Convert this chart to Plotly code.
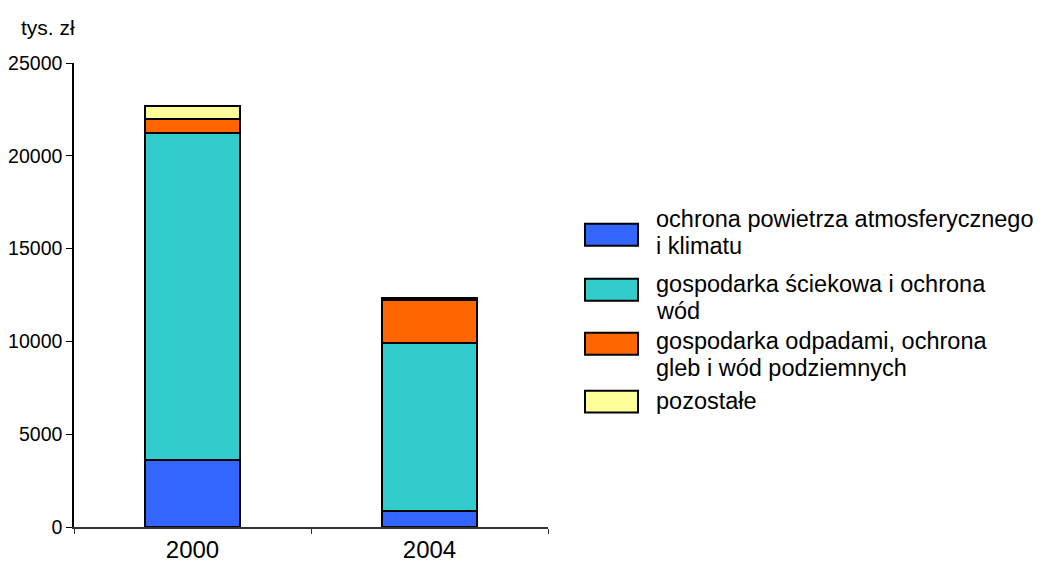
import plotly.graph_objects as go

years = ["2000", "2004"]
series_names = [
    "ochrona powietrza atmosferycznego<br>i klimatu",
    "gospodarka ściekowa i ochrona<br>wód",
    "gospodarka odpadami, ochrona<br>gleb i wód podziemnych",
    "pozostałe",
]
powietrze = [3600, 850]
sciekowa = [17620, 9090]
odpady = [770, 2280]
pozostale = [720, 100]
colors = ["#3366FF", "#33CCCC", "#FF6600", "#FFFF99"]
y_ticks = [0, 5000, 10000, 15000, 20000, 25000]

FONT = "Liberation Sans, Arial, sans-serif"
OFF = 8  # page body margin
W, H = 1045 - OFF, 569 - OFF
L, T = 74 - OFF, 63 - OFF
R = W - (548 - OFF)
B = H - (527.5 - OFF)
PW, PH = W - L - R, H - T - B


def px(x):
    return (x - OFF - L) / PW


def py(y):
    return (H - B - (y - OFF)) / PH


fig = go.Figure()
for name, vals, col in zip(series_names, [powietrze, sciekowa, odpady, pozostale], colors):
    fig.add_trace(go.Bar(x=years, y=vals, name=name.replace("<br>", " "),
                         marker=dict(color=col, line=dict(color="#000000", width=2)),
                         width=0.4, showlegend=False))

fig.update_layout(
    template="none",
    barmode="stack",
    width=W, height=H,
    margin=dict(l=L, r=R, t=T, b=B, pad=0),
    paper_bgcolor="white", plot_bgcolor="white",
    font=dict(family=FONT, size=20, color="#000000"),
    xaxis=dict(type="category", automargin=False, showgrid=False, showline=True, linecolor="#333333",
               linewidth=1.5, ticks="outside", tickson="boundaries", ticklen=5, tickcolor="#333333",
               tickfont=dict(size=24), range=[-0.5, 1.5], zeroline=False),
    yaxis=dict(range=[0, 25000], automargin=False, tickvals=y_ticks, ticktext=[str(v) for v in y_ticks],
               showgrid=False, zeroline=False, showline=True, linecolor="#000000", linewidth=1.5,
               ticks="outside", ticklen=6, tickcolor="#000000", tickfont=dict(size=19.5)),
)

fig.add_annotation(text="tys. zł", xref="paper", yref="paper", x=px(19), xanchor="left",
                   y=py(27), yanchor="middle", showarrow=False, font=dict(size=21))

# manual legend
box_tops = [224, 279, 333, 391]
line_centers = [[219, 246], [284, 311], [341, 368], [401]]
for name, col, top, centers in zip(series_names, colors, box_tops, line_centers):
    fig.add_shape(type="rect", xref="paper", yref="paper", x0=px(585), x1=px(638), y0=py(top), y1=py(top + 22),
                  fillcolor=col, line=dict(color="#000000", width=2))
    for line, cy in zip(name.split("<br>"), centers):
        fig.add_annotation(text=line, xref="paper", yref="paper", x=px(654), xanchor="left",
                           y=py(cy), yanchor="middle", align="left", showarrow=False,
                           font=dict(size=23.5))

fig.write_html("out.html")
